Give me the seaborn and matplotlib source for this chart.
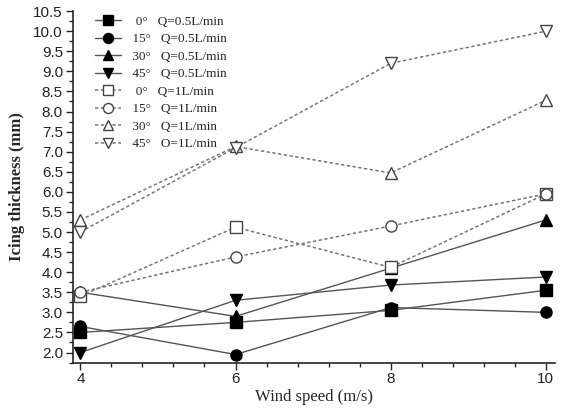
import numpy as np
import pandas as pd
import matplotlib
matplotlib.use("Agg")
import matplotlib.pyplot as plt
import seaborn as sns
from matplotlib.ticker import MultipleLocator

wind_speed = [4, 6, 8, 10]
angles = ["0°", "15°", "30°", "45°", "0°", "15°", "30°", "45°"]
flows = ["Q=0.5L/min"] * 4 + ["Q=1L/min"] * 3 + ["O=1L/min"]

s0_05 = [2.5, 2.75, 3.05, 3.55]
s15_05 = [2.65, 1.95, 3.12, 3.0]
s30_05 = [3.5, 2.9, 4.1, 5.3]
s45_05 = [2.0, 3.3, 3.68, 3.88]
s0_1 = [3.4, 5.12, 4.12, 5.95]
s15_1 = [3.5, 4.38, 5.15, 5.95]
s30_1 = [5.3, 7.13, 6.47, 8.28]
s45_1 = [5.0, 7.1, 9.2, 10.0]

series = [s0_05, s15_05, s30_05, s45_05, s0_1, s15_1, s30_1, s45_1]
markers = ["s", "o", "^", "v", "s", "o", "^", "v"]

sns.set_style("ticks")
plt.rcParams["font.family"] = ["Liberation Serif", "DejaVu Sans"]

fig = plt.figure(figsize=(5.63, 4.12), dpi=100)
ax = fig.add_axes([0.129, 0.12, 0.857, 0.853])

for i, vals in enumerate(series):
    df = pd.DataFrame({"x": wind_speed, "y": vals})
    filled = i < 4
    label = f"{angles[i]:>4}   {flows[i]}"
    sns.lineplot(
        data=df, x="x", y="y", ax=ax,
        color="#555555" if filled else "#777777",
        linestyle="-" if filled else (0, (2.2, 1.6)),
        linewidth=1.0 if filled else 1.1,
        marker=markers[i], markersize=8,
        markerfacecolor="black" if filled else "white",
        markeredgecolor="black" if filled else "#444444",
        markeredgewidth=1.0,
        label=label,
    )

ax.set_xlim(3.9, 10.12)
ax.set_ylim(1.75, 10.5)
ax.set_xticks([4, 6, 8, 10])
ax.set_yticks(np.arange(2.0, 10.51, 0.5))
ax.xaxis.set_minor_locator(MultipleLocator(0.4))
ax.yaxis.set_minor_locator(MultipleLocator(0.25))
ax.set_yticklabels([f"{v:.1f}" for v in np.arange(2.0, 10.51, 0.5)])
for lab in ax.get_xticklabels() + ax.get_yticklabels():
    lab.set_family(["Liberation Sans", "DejaVu Sans"])
    lab.set_fontsize(11)
    lab.set_color("#222222")
ax.tick_params(which="major", direction="out", length=5, width=1, pad=2)
ax.tick_params(which="minor", direction="out", length=3, width=1)
sns.despine(ax=ax)
ax.spines["left"].set_linewidth(1.2)
ax.spines["bottom"].set_linewidth(1.2)

ax.set_xlabel("Wind speed (m/s)", fontsize=12, labelpad=2)
ax.set_ylabel("Icing thickness (mm)", fontsize=12, fontweight="bold", labelpad=6)

leg = ax.legend(loc="upper left", bbox_to_anchor=(0.03, 1.01), frameon=False,
                fontsize=9.5, handlelength=2.0, labelspacing=0.4,
                handletextpad=0.6, borderaxespad=0.2, markerscale=0.9)

fig.savefig("out.png", dpi=100)
